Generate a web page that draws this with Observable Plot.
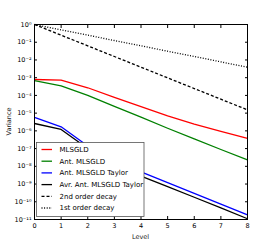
<!DOCTYPE html>
<html><head><meta charset="utf-8">
<script src="https://cdn.jsdelivr.net/npm/d3@7"></script>
<script src="https://cdn.jsdelivr.net/npm/@observablehq/plot@0.6"></script>
<style>
html,body{margin:0;padding:0;background:#fff;}
svg{display:block;}
</style></head>
<body><div id="chart"></div>
<script>
const levels = [0, 1, 2, 3, 4, 5, 6, 7, 8];
const mlsgld = [7.9e-4, 7.2e-4, 2.7e-4, 7.8e-5, 2.3e-5, 7.1e-6, 2.4e-6, 9.3e-7, 3.8e-7];
const antMlsgld = [6.9e-4, 3.5e-4, 1.0e-4, 2.4e-5, 6.0e-6, 1.4e-6, 3.5e-7, 8.9e-8, 2.3e-8];
const antTaylor = [5.8e-6, 1.7e-6, 1.4e-7, 2.4e-8, 4.8e-9, 1.2e-9, 3.0e-10, 7.4e-11, 1.8e-11];
const avrAntTaylor = [2.6e-6, 1.2e-6, 1.0e-7, 1.5e-8, 2.8e-9, 7.1e-10, 1.8e-10, 4.5e-11, 1.1e-11];
const secondOrder = [1, 0.25, 0.0625, 0.015625, 0.00390625, 9.765625e-4, 2.44140625e-4, 6.103515625e-5, 1.52587890625e-5];
const firstOrder = [1, 0.5, 0.25, 0.125, 0.0625, 0.03125, 0.015625, 0.0078125, 0.00390625];
const seriesNames = ["MLSGLD", "Ant. MLSGLD", "Ant. MLSGLD Taylor", "Avr. Ant. MLSGLD Taylor", "2nd order decay", "1st order decay"];
const seriesColors = ["#ff0000", "#008000", "#0000ff", "#000000", "#000000", "#000000"];
const seriesDash = [null, null, null, null, "3,2", "1,1.6"];
const seriesValues = [mlsgld, antMlsgld, antTaylor, avrAntTaylor, secondOrder, firstOrder];
const xTicks = [0, 1, 2, 3, 4, 5, 6, 7, 8];
const yTicks = [1, 1e-1, 1e-2, 1e-3, 1e-4, 1e-5, 1e-6, 1e-7, 1e-8, 1e-9, 1e-10, 1e-11];
const yTickLabels = ["10⁰", "10⁻¹", "10⁻²", "10⁻³", "10⁻⁴", "10⁻⁵", "10⁻⁶", "10⁻⁷", "10⁻⁸", "10⁻⁹", "10⁻¹⁰", "10⁻¹¹"];

const rows = [];
seriesNames.forEach((name, i) => levels.forEach((l, j) => rows.push({series: name, level: l, value: seriesValues[i][j], idx: i})));

const font = "DejaVu Sans, sans-serif";
const lineMarks = seriesNames.map((name, i) => Plot.line(rows.filter(r => r.idx === i), {
  x: "level", y: "value", stroke: seriesColors[i], strokeWidth: 1.3,
  strokeDasharray: seriesDash[i], strokeLinecap: "butt", strokeLinejoin: "round"
}));
const blank = () => "";

const plot = Plot.plot({
  width: 274, height: 245,
  marginLeft: 34, marginRight: 27, marginTop: 24, marginBottom: 26,
  style: {fontFamily: font, fontSize: "6.5px", background: "#fff", color: "#000"},
  x: {domain: [0, 8]},
  y: {type: "log", domain: [1e-11, 1]},
  marks: [
    ...lineMarks,
    Plot.axisX({anchor: "bottom", ticks: xTicks, tickSize: 0, tickPadding: 4, tickFormat: d => String(d), label: null, fontSize: 6.5}),
    Plot.axisX({anchor: "bottom", ticks: xTicks, tickSize: -3, tickFormat: blank, label: null}),
    Plot.axisX({anchor: "top", ticks: xTicks, tickSize: -3, tickFormat: blank, label: null}),
    Plot.axisY({anchor: "left", ticks: yTicks, tickSize: 0, tickPadding: 3, tickFormat: d => yTickLabels[yTicks.indexOf(d)], label: null, fontSize: 6.5}),
    Plot.axisY({anchor: "left", ticks: yTicks, tickSize: -3, tickFormat: blank, label: null}),
    Plot.axisY({anchor: "right", ticks: yTicks, tickSize: -3, tickFormat: blank, label: null}),
    Plot.frame({stroke: "#000", strokeWidth: 1})
  ]
});

const svg = d3.select(plot);
// axis titles
svg.append("text").attr("x", 140.5).attr("y", 238.5).attr("text-anchor", "middle")
  .attr("font-family", font).attr("font-size", 6.5).style("fill", "#222").text("Level");
svg.append("text").attr("transform", "translate(11,121.5) rotate(-90)").attr("text-anchor", "middle")
  .attr("font-family", font).attr("font-size", 6.5).style("fill", "#222").text("Variance");

// legend
const lg = svg.append("g");
lg.append("rect").attr("x", 36.5).attr("y", 142.5).attr("width", 107.5).attr("height", 74)
  .attr("fill", "#fff").attr("stroke", "#555").attr("stroke-width", 0.8);
seriesNames.forEach((name, i) => {
  const y = 149.5 + i * 11.7;
  lg.append("line").attr("x1", 41.5).attr("x2", 52).attr("y1", y).attr("y2", y)
    .attr("stroke", seriesColors[i]).attr("stroke-width", 1.3)
    .attr("stroke-dasharray", seriesDash[i]);
  lg.append("text").attr("x", 59.5).attr("y", y).attr("dy", "0.35em").attr("text-anchor", "start")
    .attr("font-family", font).attr("font-size", 7).attr("fill", "#000").text(name);
});

document.getElementById("chart").appendChild(plot);
</script>
</body></html>
